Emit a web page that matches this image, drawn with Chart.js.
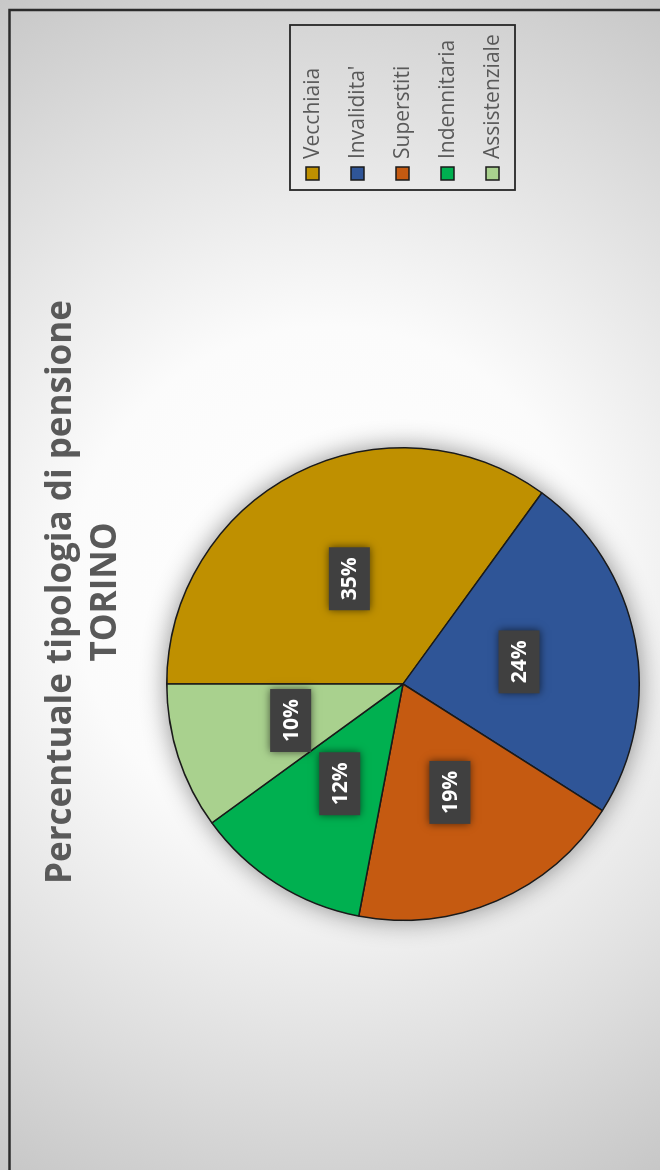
<!DOCTYPE html>
<html>
<head>
<meta charset="utf-8">
<script src="https://cdn.jsdelivr.net/npm/chart.js@4"></script>
<style>
  html, body { margin: 0; padding: 0; background: #c8c8c8; overflow: hidden; }
  #wrap {
    position: absolute; left: 0; top: 0;
    width: 1170px; height: 660px;
    transform-origin: 0 0;
    transform: translate(0px, 1170px) rotate(-90deg);
  }
</style>
</head>
<body>
<div id="wrap"><canvas id="c" width="1170" height="660"></canvas></div>
<script>
const categories = ["Vecchiaia", "Invalidita'", "Superstiti", "Indennitaria", "Assistenziale"];
const percentValues = [35, 24, 19, 12, 10];
const sliceColors = ["#BF9000", "#2F5597", "#C55A11", "#00B050", "#A9D18E"];
const titleLines = ["Percentuale tipologia di pensione", "TORINO"];

const bgPlugin = {
  id: 'bg',
  beforeDraw(chart) {
    const ctx = chart.ctx, W = chart.width, H = chart.height;
    ctx.save();
    const g = ctx.createRadialGradient(585, 330, 0, 585, 330, 680);
    g.addColorStop(0, '#ffffff');
    g.addColorStop(0.38, '#fbfbfb');
    g.addColorStop(0.75, '#dcdcdc');
    g.addColorStop(1, '#c6c6c6');
    ctx.fillStyle = g;
    ctx.fillRect(0, 0, W, H);
    ctx.strokeStyle = '#2b2b2b';
    ctx.lineWidth = 2.5;
    ctx.strokeRect(-20, 9.5, 1180, 700);
    ctx.restore();
  },
  beforeDatasetsDraw(chart) {
    const meta = chart.getDatasetMeta(0);
    if (!meta.data.length) return;
    const a = meta.data[0];
    const ctx = chart.ctx;
    ctx.save();
    ctx.shadowColor = 'rgba(0,0,0,0.45)';
    ctx.shadowBlur = 26;
    ctx.fillStyle = '#777';
    ctx.beginPath();
    ctx.arc(a.x, a.y, a.outerRadius, 0, Math.PI * 2);
    ctx.fill();
    ctx.restore();
  },
  afterDatasetsDraw(chart) {
    const ctx = chart.ctx;
    const meta = chart.getDatasetMeta(0);
    const data = chart.data.datasets[0].data;
    ctx.save();
    ctx.font = 'bold 21px "Open Sans"';
    ctx.textAlign = 'center';
    ctx.textBaseline = 'middle';
    meta.data.forEach((arc, i) => {
      const p = arc.tooltipPosition();
      const txt = data[i] + '%';
      const tw = ctx.measureText(txt).width;
      const bw = tw + 20, bh = 41;
      ctx.save();
      ctx.shadowColor = 'rgba(0,0,0,0.6)';
      ctx.shadowBlur = 8;
      ctx.fillStyle = '#404040';
      ctx.fillRect(p.x - bw / 2, p.y - bh / 2, bw, bh);
      ctx.restore();
      ctx.fillStyle = '#ffffff';
      ctx.fillText(txt, p.x, p.y + 1);
    });
    ctx.restore();
  },
  afterDraw(chart) {
    const ctx = chart.ctx;
    ctx.save();
    ctx.fillStyle = '#595959';
    ctx.font = 'bold 35px "Open Sans"';
    ctx.textAlign = 'center';
    ctx.textBaseline = 'alphabetic';
    ctx.fillText(titleLines[0], 578, 71);
    ctx.fillText(titleLines[1], 578, 116);
    ctx.strokeStyle = '#262626';
    ctx.lineWidth = 1.8;
    ctx.strokeRect(980, 290, 165, 225);
    ctx.font = '21px "Open Sans"';
    ctx.textAlign = 'left';
    ctx.textBaseline = 'middle';
    categories.forEach((c, i) => {
      const y = 313 + i * 45;
      ctx.fillStyle = sliceColors[i];
      ctx.fillRect(990, y - 7, 13, 13);
      ctx.strokeStyle = '#1a1a1a';
      ctx.lineWidth = 1.5;
      ctx.strokeRect(990, y - 7, 13, 13);
      ctx.fillStyle = '#595959';
      ctx.fillText(c, 1011, y);
    });
    ctx.restore();
  }
};

new Chart(document.getElementById('c'), {
  type: 'pie',
  data: {
    labels: categories,
    datasets: [{
      data: percentValues,
      backgroundColor: sliceColors,
      borderColor: '#1a1a1a',
      borderWidth: 1.5
    }]
  },
  options: {
    responsive: false,
    animation: false,
    rotation: 0,
    layout: { padding: { left: 249, right: 447, top: 166, bottom: 20 } },
    plugins: {
      legend: { display: false },
      title: { display: false },
      tooltip: { enabled: false }
    }
  },
  plugins: [bgPlugin]
});
</script>
</body>
</html>
